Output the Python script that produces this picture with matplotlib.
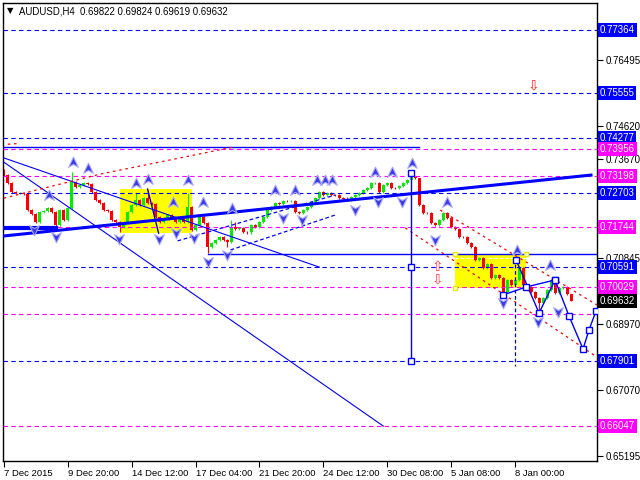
import matplotlib
matplotlib.use("Agg")
import matplotlib.pyplot as plt
from matplotlib.path import Path
from matplotlib.patches import Rectangle

plt.rcParams['font.family'] = ['Liberation Sans', 'DejaVu Sans']

# AUDUSD H4, bar index 0 = 7 Dec 2015 00:00
first_open = 0.7336
closes = [
    0.7322, 0.7299, 0.7274, 0.7271, 0.7272, 0.7268, 0.7222, 0.7211, 0.7188, 0.7216,
    0.7219, 0.7228, 0.7216, 0.7179, 0.7222, 0.7194, 0.7228, 0.7302, 0.7288, 0.7294,
    0.7299, 0.7296, 0.7274, 0.7251, 0.7242, 0.7222, 0.7220, 0.7194, 0.7188, 0.7174,
    0.7188, 0.7216, 0.7236, 0.7251, 0.7236, 0.7256, 0.7242, 0.7240, 0.7202, 0.7188,
    0.7199, 0.7208, 0.7199, 0.7188, 0.7199, 0.7188, 0.7231, 0.7165, 0.7179, 0.7202,
    0.7185, 0.7116, 0.7128, 0.7136, 0.7145, 0.7136, 0.7131, 0.7174, 0.7168, 0.7171,
    0.7159, 0.7158, 0.7179, 0.7174, 0.7188, 0.7202, 0.7222, 0.7231, 0.7242, 0.7239,
    0.7248, 0.7247, 0.7249, 0.7216, 0.7214, 0.7222, 0.7231, 0.7245, 0.7256, 0.7274,
    0.7265, 0.7271, 0.7265, 0.7264, 0.7256, 0.7255, 0.7251, 0.7259, 0.7265, 0.7271,
    0.7279, 0.7285, 0.7299, 0.7300, 0.7274, 0.7294, 0.7299, 0.7285, 0.7284, 0.7291,
    0.7299, 0.7308, 0.7316, 0.7313, 0.7236, 0.7214, 0.7213, 0.7185, 0.7179, 0.7194,
    0.7214, 0.7199, 0.7174, 0.7168, 0.7145, 0.7144, 0.7128, 0.7116, 0.7079, 0.7085,
    0.7057, 0.7068, 0.7028, 0.7036, 0.7028, 0.6988, 0.7022, 0.7008, 0.7022, 0.7057,
    0.7008, 0.7002, 0.6988, 0.6971, 0.6956, 0.6971, 0.6994, 0.7022, 0.6985, 0.6999,
    0.7002, 0.69822, 0.69632,
]
# wick lengths in pips
upper_wick = [
    4, 3, 3, 2, 3, 2, 3, 2, 2, 3,
    3, 4, 3, 2, 3, 3, 2, 29, 3, 3,
    3, 3, 2, 3, 2, 3, 2, 3, 2, 3,
    2, 3, 4, 20, 3, 4, 23, 3, 2, 3,
    2, 3, 2, 4, 3, 3, 40, 3, 2, 4,
    3, 3, 2, 3, 4, 2, 3, 20, 14, 3,
    3, 2, 3, 2, 3, 3, 2, 3, 3, 3,
    3, 2, 3, 2, 3, 3, 2, 3, 3, 3,
    2, 3, 3, 2, 3, 2, 3, 3, 3, 2,
    3, 3, 2, 3, 3, 3, 3, 2, 3, 3,
    3, 3, 11, 3, 1, 3, 3, 3, 3, 3,
    3, 3, 3, 3, 3, 3, 3, 3, 3, 4,
    3, 4, 3, 3, 3, 3, 3, 3, 3, 4,
    3, 3, 3, 3, 3, 3, 3, 3, 3, 3,
    3, 3, 0.2,
]
lower_wick = [
    3, 3, 2, 3, 3, 3, 2, 3, 3, 3,
    3, 3, 3, 6, 3, 3, 3, 3, 3, 2,
    3, 3, 3, 2, 3, 3, 3, 3, 3, 14,
    3, 3, 2, 3, 3, 3, 3, 3, 3, 3,
    3, 3, 3, 3, 3, 3, 3, 3, 3, 3,
    3, 17, 3, 3, 3, 3, 14, 3, 3, 3,
    3, 3, 3, 3, 3, 3, 3, 3, 3, 3,
    3, 3, 3, 3, 3, 3, 3, 3, 3, 3,
    3, 3, 3, 3, 3, 3, 3, 3, 3, 3,
    3, 3, 3, 3, 3, 3, 3, 3, 3, 3,
    3, 3, 3, 3, 3, 3, 3, 3, 3, 3,
    3, 3, 3, 3, 3, 3, 3, 3, 3, 3,
    3, 3, 3, 3, 3, 3, 3, 3, 3, 3,
    3, 3, 3, 3, 26, 3, 3, 3, 3, 3,
    3, 3, 1.3,
]

time_labels = ['7 Dec 2015', '9 Dec 20:00', '14 Dec 12:00', '17 Dec 04:00', '21 Dec 20:00',
               '24 Dec 12:00', '30 Dec 08:00', '5 Jan 08:00', '8 Jan 00:00']
time_bars = [0, 16, 32, 48, 64, 80, 96, 112, 128]

blue_levels = [0.77364, 0.75555, 0.74277, 0.72703, 0.70591, 0.67901]
magenta_levels = [0.73956, 0.73198, 0.71744, 0.70029, 0.66047]
magenta_extra = 0.6925
price_ticks = [0.76495, 0.74620, 0.73670, 0.70845, 0.68970, 0.67070, 0.65195]
last_price = 0.69632

# fractals (bar, price)
up_frac_bars = [17.25, 21, 11.25, 33, 36, 46, 42.25, 49.75, 57.25, 68, 73, 78.5, 80.5,
                82.25, 93, 97.25, 102.25, 111, 128.5, 136.75]
up_frac_prices = [0.7359, 0.7342, 0.7265, 0.7299, 0.7311, 0.7308, 0.7245, 0.7245, 0.7228,
                  0.7279, 0.7279, 0.7308, 0.7308, 0.7308, 0.7331, 0.7331, 0.7356, 0.7245,
                  0.7108, 0.7065]
dn_frac_bars = [7.5, 13, 28.75, 38.75, 43, 47.5, 51, 56, 70, 74.75, 88, 93.75, 99.75,
                108, 125, 133.75, 138.75]
dn_frac_prices = [0.7165, 0.7145, 0.7139, 0.7139, 0.7156, 0.7142, 0.7074, 0.7094, 0.7199,
                  0.7194, 0.7222, 0.7245, 0.7245, 0.7136, 0.6956, 0.6902, 0.6931]

# projection wave (bar, price)
wave_bars = [128.25, 134, 138, 141.5, 145, 146.5, 148.25]
wave_prices = [0.70794, 0.69280, 0.70223, 0.69194, 0.68251, 0.68794, 0.69337]
wave2_bars = [125, 130.75, 138]
wave2_prices = [0.69794, 0.70023, 0.70223]

fig = plt.figure(figsize=(6.4, 4.8), dpi=100)
ax = fig.add_axes([3 / 640, 1 - 461 / 480, 594 / 640, 458 / 480])
ax.set_xlim(-0.2, 148.5)
ax.set_ylim(0.65052, 0.78135)

# yellow rectangles
ax.add_patch(Rectangle((29, 0.71565), 18, 0.72822 - 0.71565, fc='#FFFF00', ec='none', zorder=1))
ax.add_patch(Rectangle((113, 0.69994), 17.75, 0.70965 - 0.69994, fc='#FFFF00', ec='none', zorder=1))
ax.plot([113, 130.75], [0.7085, 0.7085], color='white', lw=0.8, ls=(0, (3, 2)), zorder=1.5)
ax.plot([113, 113, 130.75], [0.70965, 0.69994, 0.70965], ls='none', marker='s', ms=3.5,
        mfc='white', mec='#E8E800', zorder=5)

# candles
opens = [first_open] + closes[:-1]
for i, (o, c) in enumerate(zip(opens, closes)):
    col = '#00EE00' if c >= o else '#FF0000'
    hi = max(o, c) + upper_wick[i] * 0.0001
    lo = min(o, c) - lower_wick[i] * 0.0001
    ax.vlines(i, lo, hi, color=col, lw=0.8, zorder=2)
    ax.bar(i, max(abs(c - o), 0.00006), bottom=min(o, c), width=0.75, color=col, zorder=2)

# horizontal levels
dash = (0, (4, 3))
for lv in blue_levels:
    ax.axhline(lv, color='#0000FF', lw=0.8, ls=dash, zorder=3)
for lv in magenta_levels + [magenta_extra]:
    ax.axhline(lv, color='#FF00FF', lw=0.8, ls=dash, zorder=3)

# solid horizontals
ax.plot([-0.2, 104], [0.7402, 0.7402], color='#0000FF', lw=1, zorder=3)
ax.plot([51, 148.5], [0.70965, 0.70965], color='#0000FF', lw=1, zorder=3)

# thin trend lines
ax.plot([0, 79], [0.7371, 0.7059], color='#0000FF', lw=0.8, zorder=3)
ax.plot([0, 95], [0.7359, 0.6605], color='#0000FF', lw=0.8, zorder=3)
ax.plot([36, 38.75], [0.7282, 0.7156], color='#0000FF', lw=1, zorder=3)
# thick trend lines
ax.plot([0, 147], [0.7148, 0.7322], color='#0000FF', lw=2.2, zorder=3)
ax.plot([-0.2, 13], [0.7171, 0.7171], color='#0000FF', lw=3, zorder=3)
# dashed blue channel
ax.plot([43.5, 83], [0.7134, 0.7265], color='#0000FF', lw=0.9, ls=(0, (3, 2)), zorder=3)
ax.plot([56.75, 83], [0.7108, 0.7208], color='#0000FF', lw=0.9, ls=(0, (3, 2)), zorder=3)

# red dotted lines
red_dot = (0, (2, 3))
ax.plot([0, 24.25, 57.5], [0.7256, 0.7325, 0.7402], color='#FF0000', lw=0.9, ls=red_dot, zorder=3)
ax.plot([1, 3.5], [0.7410, 0.7412], color='#FF0000', lw=0.9, ls=red_dot, zorder=3)
ax.plot([109.25, 148.5], [0.7222, 0.6951], color='#FF0000', lw=0.9, ls=red_dot, zorder=3)
ax.plot([100.5, 148.5], [0.7171, 0.6802], color='#FF0000', lw=0.9, ls=red_dot, zorder=3)

# vertical lines
ax.plot([102, 102], [0.7328, 0.67901], color='#0000FF', lw=1, zorder=3)
ax.plot([102, 102, 102], [0.7328, 0.70591, 0.67901], ls='none', marker='s', ms=4.5,
        mfc='white', mec='#0000FF', mew=1, zorder=5)
ax.plot([128, 128], [0.7085, 0.6777], color='#0000FF', lw=0.9, ls=(0, (3, 2)), zorder=3)

# projection waves
ax.plot(wave_bars, wave_prices, color='#0000FF', lw=1, marker='s', ms=4.5,
        mfc='white', mec='#0000FF', zorder=5)
ax.plot(wave2_bars, wave2_prices, color='#0000FF', lw=1, marker='s', ms=4.5,
        mfc='white', mec='#0000FF', zorder=5)

# fractal arrows
up_path = Path([(0, 1), (0.9, -0.9), (0, -0.35), (-0.9, -0.9), (0, 1)],
               [Path.MOVETO, Path.LINETO, Path.LINETO, Path.LINETO, Path.CLOSEPOLY])
dn_path = Path([(0, -1), (0.9, 0.9), (0, 0.35), (-0.9, 0.9), (0, -1)],
               [Path.MOVETO, Path.LINETO, Path.LINETO, Path.LINETO, Path.CLOSEPOLY])
ax.scatter(up_frac_bars, up_frac_prices, marker=up_path, s=60, c='#3A3AE8',
           edgecolors='#A8A8FF', linewidths=0.8, zorder=4)
ax.scatter(dn_frac_bars, dn_frac_prices, marker=dn_path, s=60, c='#3A3AE8',
           edgecolors='#A8A8FF', linewidths=0.8, zorder=4)

# outline arrows
ax.text(132.5, 0.7579, '\u21e9', color='#FF2020', fontsize=10, ha='center', va='center',
        family='DejaVu Sans', zorder=5)
ax.text(108.5, 0.7060, '\u21e7', color='#FF4040', fontsize=10, ha='center', va='center',
        family='DejaVu Sans', zorder=5)
ax.text(108.5, 0.7024, '\u21e9', color='#FF4040', fontsize=10, ha='center', va='center',
        family='DejaVu Sans', zorder=5)

# axes styling
for sp in ax.spines.values():
    sp.set_color('black')
    sp.set_linewidth(1)
ax.yaxis.tick_right()
ax.set_yticks(price_ticks)
ax.set_yticklabels([f'{p:.5f}' for p in price_ticks])
ax.tick_params(axis='y', length=4, width=0.8, pad=2, labelsize=7)
ax.set_xticks(time_bars)
ax.set_xticklabels(time_labels, ha='left')
ax.tick_params(axis='x', length=4, width=0.8, pad=2, labelsize=6.8)

# level labels
ytrans = ax.get_yaxis_transform()
def level_label(price, color):
    ax.text(1.0045, price, f'{price:.5f}', transform=ytrans, ha='left', va='center',
            color='white', fontsize=7, clip_on=False, zorder=6,
            bbox=dict(boxstyle='square,pad=0.2', fc=color, ec='none'))

for lv in blue_levels:
    level_label(lv, '#0000FF')
for lv in magenta_levels:
    level_label(lv, '#FF00FF')
level_label(last_price, '#000000')

# header
fig.text(7 / 640, 1 - 11 / 480, '\u25bc', fontsize=6, va='center', ha='left', family='DejaVu Sans')
fig.text(19 / 640, 1 - 11 / 480, 'AUDUSD,H4  0.69822 0.69824 0.69619 0.69632',
         fontsize=6.9, va='center', ha='left')

fig.savefig('out.png', dpi=100)
